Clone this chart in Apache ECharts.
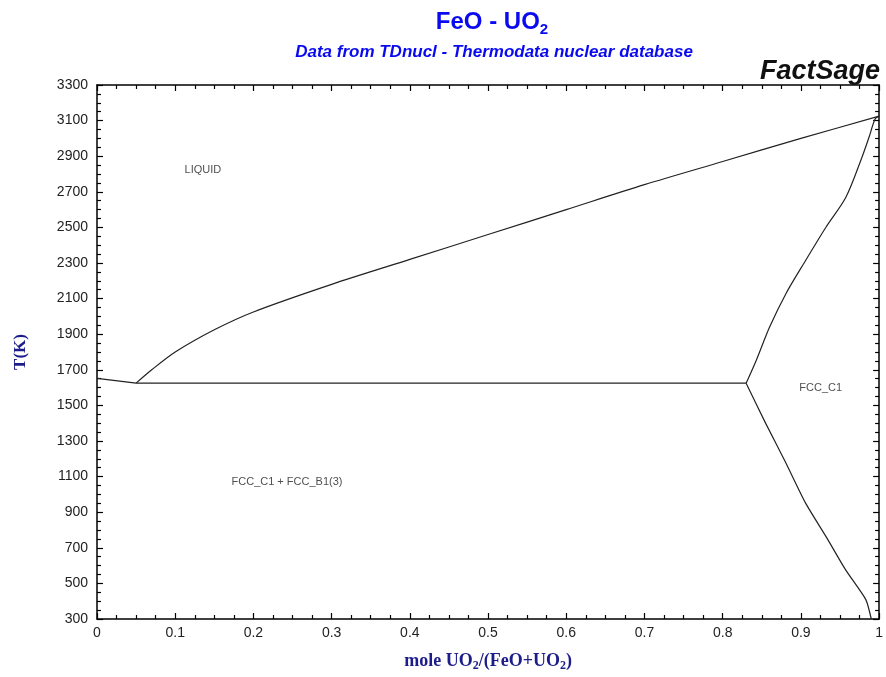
<!DOCTYPE html>
<html>
<head>
<meta charset="utf-8">
<script src="https://cdn.jsdelivr.net/npm/echarts@6/dist/echarts.min.js"></script>
<style>
  html, body { margin: 0; padding: 0; background: #fff; }
  #chart { width: 886px; height: 677px; }
</style>
</head>
<body>
<div id="chart"></div>
<script>
// phase boundaries, [x (mole UO2), T (K)]
const liquidusFeO = [[0, 1652], [0.05, 1625]];
const liquidusUO2 = [
  [0.05, 1625], [0.07, 1700], [0.1, 1800], [0.15, 1925], [0.2, 2025],
  [0.3, 2180], [0.4, 2320], [0.5, 2460], [0.6, 2600], [0.7, 2740],
  [0.8, 2870], [0.9, 3000], [1.0, 3125]
];
const solidus = [
  [1.0, 3125], [0.995, 3110], [0.987, 3005], [0.978, 2893], [0.9575, 2669],
  [0.932, 2501], [0.906, 2314], [0.881, 2129], [0.86, 1940], [0.843, 1754],
  [0.83, 1625]
];
const eutecticLine = [[0.05, 1625], [0.83, 1625]];
const solvus = [
  [0.83, 1625], [0.855, 1399], [0.881, 1175], [0.906, 951], [0.932, 764],
  [0.957, 577], [0.983, 409], [0.99, 300]
];
const regionLabels = [
  { text: 'LIQUID', x: 0.112, y: 2820 },
  { text: 'FCC_C1 + FCC_B1(3)', x: 0.172, y: 1070 },
  { text: 'FCC_C1', x: 0.898, y: 1600 }
];

const chart = echarts.init(document.getElementById('chart'));

const lineColor = '#222';
const mkLine = (data, smooth) => ({
  type: 'line',
  data: data,
  symbol: 'none',
  silent: true,
  smooth: smooth || false,
  lineStyle: { color: lineColor, width: 1.2 }
});

const baseX = {
  type: 'value',
  min: 0,
  max: 1,
  interval: 0.1,
  axisLine: { show: true, onZero: false, lineStyle: { color: '#000', width: 1.5 } },
  axisTick: { show: true, inside: true, length: 6, lineStyle: { color: '#000', width: 1.2 } },
  minorTick: { show: true, splitNumber: 4, length: 4, lineStyle: { color: '#000', width: 1.2 } },
  splitLine: { show: false }
};
const baseY = {
  type: 'value',
  min: 300,
  max: 3300,
  interval: 200,
  axisLine: { show: true, onZero: false, lineStyle: { color: '#000', width: 1.5 } },
  axisTick: { show: true, inside: true, length: 6, lineStyle: { color: '#000', width: 1.2 } },
  minorTick: { show: true, splitNumber: 4, length: 4, lineStyle: { color: '#000', width: 1.2 } },
  splitLine: { show: false }
};

const option = {
  animation: false,
  backgroundColor: '#fff',
  title: [
    {
      text: 'FeO - UO{s|2}',
      left: 487,
      top: 3,
      textAlign: 'center',
      textStyle: {
        fontFamily: 'Liberation Sans',
        fontSize: 24,
        fontWeight: 'bold',
        color: '#0a0af0',
        rich: {
          s: { fontFamily: 'Liberation Sans', fontSize: 15, fontWeight: 'bold', color: '#0a0af0', padding: [14, 0, 0, 0] }
        }
      }
    },
    {
      text: 'Data from TDnucl - Thermodata nuclear database',
      left: 489,
      top: 39,
      textAlign: 'center',
      textStyle: {
        fontFamily: 'Liberation Sans',
        fontSize: 17,
        fontStyle: 'italic',
        fontWeight: 'bold',
        color: '#0a0af0'
      }
    },
    {
      text: 'FactSage',
      right: 1,
      top: 53,
      textStyle: {
        fontFamily: 'Liberation Sans',
        fontSize: 27,
        fontStyle: 'italic',
        fontWeight: 'bold',
        color: '#111'
      }
    }
  ],
  grid: { left: 97, right: 6, top: 85, bottom: 51 },
  xAxis: [
    Object.assign({}, baseX, {
      position: 'bottom',
      name: 'mole UO{s|2}/(FeO+UO{s|2})',
      nameLocation: 'middle',
      nameGap: 31,
      nameTextStyle: {
        fontFamily: 'Liberation Serif',
        fontSize: 18,
        fontWeight: 'bold',
        color: '#1c1c8a',
        rich: {
          s: { fontFamily: 'Liberation Serif', fontSize: 12, fontWeight: 'bold', color: '#1c1c8a', padding: [10, 0, 0, 0] }
        }
      },
      axisLabel: {
        show: true,
        margin: 7,
        fontFamily: 'Liberation Sans',
        fontSize: 14,
        color: '#222',
        formatter: (v) => String(Math.round(v * 10) / 10)
      }
    }),
    Object.assign({}, baseX, { position: 'top', axisLabel: { show: false } })
  ],
  yAxis: [
    Object.assign({}, baseY, {
      position: 'left',
      name: 'T(K)',
      nameLocation: 'middle',
      nameGap: 68,
      nameTextStyle: {
        fontFamily: 'Liberation Serif',
        fontSize: 17,
        fontWeight: 'bold',
        color: '#1c1c8a'
      },
      axisLabel: {
        show: true,
        margin: 9,
        fontFamily: 'Liberation Sans',
        fontSize: 14,
        color: '#222',
        formatter: (v) => String(v)
      }
    }),
    Object.assign({}, baseY, { position: 'right', axisLabel: { show: false } })
  ],
  series: [
    mkLine(liquidusFeO),
    mkLine(liquidusUO2, 0.3),
    mkLine(solidus, 0.3),
    mkLine(eutecticLine),
    mkLine(solvus, 0.2),
    {
      type: 'scatter',
      data: regionLabels.map(d => [d.x, d.y, d.text]),
      symbolSize: 0,
      silent: true,
      label: {
        show: true,
        position: 'right',
        distance: 0,
        formatter: (p) => p.data[2],
        fontFamily: 'Liberation Sans',
        fontSize: 11,
        color: '#222'
      }
    }
  ]
};

chart.setOption(option);
</script>
</body>
</html>
